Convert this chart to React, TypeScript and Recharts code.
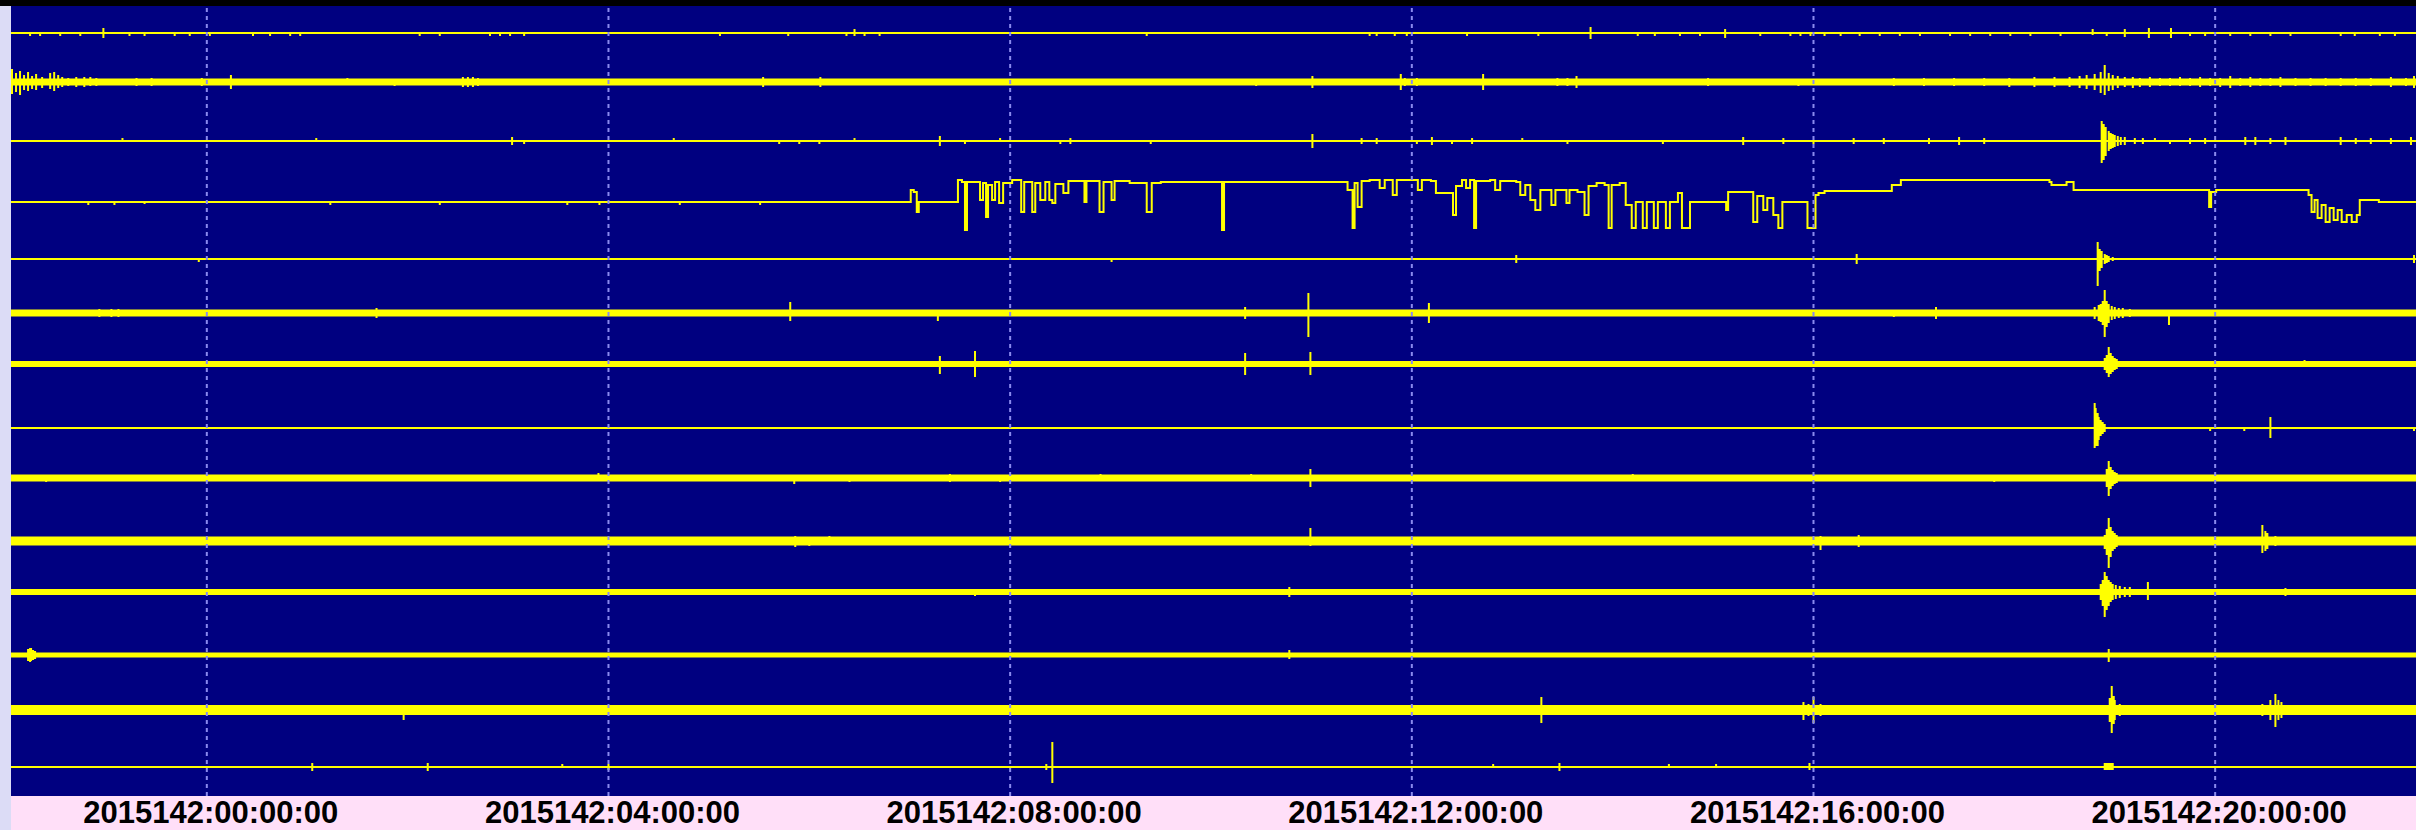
import { ComposedChart, Line, XAxis, YAxis, CartesianGrid, ReferenceLine } from "recharts";

// 24h helicorder-style view, day 2015142, x in hours from 00:00
const TICK_HOURS = [0, 4, 8, 12, 16, 20];
const TICK_LABELS = [
  "2015142:00:00:00",
  "2015142:04:00:00",
  "2015142:08:00:00",
  "2015142:12:00:00",
  "2015142:16:00:00",
  "2015142:20:00:00"
];

// spikes: [hour, up, down]
const CH01_SPIKES: [number, number, number][] = [
  [-1.76, 0, 3], [-1.66, 0, 3], [-1.46, 0, 3], [-1.26, 0, 3], [-1.03, 5, 5], [-0.77, 0, 3],
  [-0.62, 0, 3], [-0.32, 0, 3], [-0.17, 0, 3], [0.03, 0, 3], [0.46, 0, 3], [0.63, 0, 3],
  [0.83, 0, 3], [0.93, 0, 3], [2.12, 0, 3], [2.32, 0, 3], [2.82, 0, 3], [2.92, 0, 3],
  [3.02, 0, 3], [3.16, 0, 3], [5.11, 0, 3], [5.79, 0, 3], [6.37, 0, 3], [6.45, 4, 3],
  [6.55, 0, 3], [6.7, 0, 3], [9.36, 0, 3], [11.58, 0, 3], [11.65, 0, 3], [11.83, 0, 3],
  [11.95, 0, 3], [12.55, 0, 3], [13.26, 0, 3], [13.78, 6, 6], [14.25, 0, 3], [14.42, 0, 3],
  [14.67, 0, 3], [14.87, 0, 3], [15.12, 4, 5], [15.47, 0, 3], [15.77, 0, 3], [15.87, 0, 3],
  [15.97, 0, 3], [16.11, 0, 3], [16.27, 0, 3], [16.46, 0, 3], [16.66, 0, 3], [16.86, 0, 3],
  [17.06, 0, 3], [17.36, 0, 3], [17.56, 0, 3], [17.76, 0, 3], [17.96, 0, 3], [18.16, 0, 3],
  [18.46, 0, 3], [18.78, 4, 2], [18.92, 0, 3], [19.1, 4, 4], [19.34, 5, 5], [19.56, 5, 5],
  [19.75, 0, 3], [19.9, 0, 3], [20.15, 0, 3], [20.35, 0, 3], [20.55, 0, 3], [20.75, 0, 3],
  [21.25, 0, 3], [21.39, 0, 3], [21.64, 0, 3], [21.79, 0, 3]
];

const CH02_SPIKES: [number, number, number][] = [
  [-1.94, 13, 12], [-1.9, 9, 10], [-1.86, 11, 13], [-1.82, 7, 8], [-1.78, 10, 9], [-1.74, 6, 7],
  [-1.7, 8, 8], [-1.64, 5, 6], [-1.56, 9, 7], [-1.52, 10, 9], [-1.48, 7, 6], [-1.44, 5, 5],
  [-1.38, 4, 4], [-1.3, 5, 5], [-1.22, 5, 5], [-1.16, 5, 4], [-1.1, 4, 4], [-1.0, 3, 3],
  [-0.9, 3, 3], [-0.7, 4, 4], [-0.55, 4, 4], [-0.3, 3, 3], [-0.05, 4, 4], [0.24, 7, 7],
  [0.3, 3, 3], [0.9, 3, 3], [1.4, 4, 3], [1.87, 3, 4], [2.55, 5, 5], [2.6, 5, 5], [2.65, 5, 5],
  [2.7, 4, 4], [5.54, 5, 5], [6.11, 5, 5], [10.45, 3, 4], [11.01, 6, 6], [11.89, 8, 8],
  [11.93, 4, 4], [12.05, 4, 4], [12.71, 8, 8], [12.95, 3, 3], [13.45, 4, 4], [13.55, 4, 4],
  [13.64, 6, 6], [13.7, 3, 3], [14.6, 3, 3], [14.95, 4, 4], [15.6, 3, 3], [15.85, 3, 4],
  [16.1, 3, 3], [16.45, 3, 3], [16.8, 4, 4], [17.1, 4, 4], [17.4, 4, 4], [17.7, 4, 4],
  [17.95, 4, 5], [18.2, 5, 5], [18.4, 5, 5], [18.55, 5, 5], [18.65, 6, 6], [18.72, 7, 7],
  [18.8, 8, 8], [18.86, 10, 11], [18.9, 17, 13], [18.94, 9, 9], [18.98, 7, 8], [19.03, 6, 6],
  [19.1, 5, 5], [19.18, 5, 6], [19.25, 4, 5], [19.35, 5, 5], [19.45, 4, 4], [19.55, 4, 4],
  [19.65, 5, 4], [19.75, 4, 4], [19.85, 5, 5], [19.95, 4, 4], [20.05, 4, 5], [20.15, 6, 6],
  [20.25, 4, 4], [20.35, 5, 5], [20.45, 4, 4], [20.55, 4, 4], [20.65, 5, 5], [20.8, 4, 4],
  [20.95, 4, 4], [21.1, 4, 4], [21.25, 4, 4], [21.4, 4, 4], [21.55, 4, 4], [21.75, 5, 5],
  [21.9, 4, 4], [21.98, 6, 6]
];

const CH03_SPIKES: [number, number, number][] = [
  [-0.84, 3, 0], [1.09, 3, 0], [3.04, 4, 4], [3.16, 0, 3], [4.65, 3, 0], [5.7, 0, 3], [5.9, 0, 3],
  [6.1, 0, 3], [6.45, 3, 0], [7.3, 5, 5], [7.55, 0, 3], [7.9, 3, 0], [8.5, 0, 3], [8.6, 3, 3],
  [9.4, 0, 3], [11.01, 7, 7], [11.5, 3, 3], [11.65, 3, 3], [12.05, 0, 3], [12.2, 4, 4],
  [12.4, 0, 3], [12.6, 3, 3], [13.1, 3, 0], [13.55, 0, 3], [14.5, 0, 3], [15.3, 4, 4],
  [15.7, 3, 3], [16.0, 0, 3], [16.4, 3, 3], [16.7, 3, 3], [17.15, 3, 3], [17.45, 4, 4],
  [17.7, 3, 3], [18.87, 20, 22], [18.89, 17, 19], [18.91, 14, 15], [18.94, 10, 10],
  [18.96, 8, 8], [18.98, 7, 7], [19.0, 6, 6], [19.03, 5, 5], [19.06, 4, 4], [19.1, 4, 4],
  [19.2, 3, 3], [19.28, 3, 3], [19.4, 3, 0], [19.55, 0, 3], [19.75, 3, 3], [19.9, 3, 3],
  [20.3, 4, 4], [20.4, 4, 4], [20.55, 3, 3], [20.7, 4, 4], [21.25, 4, 4], [21.4, 3, 3],
  [21.55, 3, 3], [21.75, 3, 3], [21.95, 4, 4]
];

// channel 4 drifts: [hour, level]
const CH04_WAVE: [number, number][] = [
  [-1.95, 0], [-1.18, 0], [-1.18, -3], [-1.18, 0], [-0.92, 0], [-0.92, -3], [-0.92, 0],
  [-0.62, 0], [-0.62, -2], [-0.62, 0], [1.23, 0], [1.23, -3], [1.23, 0], [2.32, 0], [2.32, -3],
  [2.32, 0], [3.59, 0], [3.59, -3], [3.59, 0], [3.91, 0], [3.91, -3], [3.91, 0], [4.71, 0],
  [4.71, -3], [4.71, 0], [5.51, 0], [5.51, -3], [5.51, 0],
  [6.95, 0], [7.01, 12], [7.04, 10], [7.07, -10], [7.09, 0], [7.47, 0], [7.48, 22], [7.52, 20],
  [7.55, -28], [7.57, 20], [7.65, 20], [7.7, 2], [7.73, 19], [7.76, -15], [7.78, 17], [7.82, 2],
  [7.85, 20], [7.89, -1], [7.93, 19], [8.02, 22], [8.11, -10], [8.14, 20], [8.22, -10],
  [8.25, 19], [8.3, 2], [8.35, 20], [8.39, 2], [8.42, -1], [8.45, 18], [8.53, 9], [8.58, 21],
  [8.74, 0], [8.76, 21], [8.89, -10], [8.93, 20], [9.01, 2], [9.04, 21], [9.19, 19],
  [9.36, -10], [9.41, 19], [9.5, 20], [10.1, 20], [10.11, -28], [10.13, 20], [11.3, 20],
  [11.36, 12], [11.41, -26], [11.43, 19], [11.46, -5], [11.5, 21], [11.58, 22], [11.68, 14],
  [11.73, 22], [11.81, 7], [11.85, 22], [11.98, 22], [12.06, 12], [12.1, 22], [12.19, 21],
  [12.24, 9], [12.33, 9], [12.41, -13], [12.44, 16], [12.5, 22], [12.54, 14], [12.58, 22],
  [12.62, -26], [12.64, 21], [12.78, 22], [12.83, 12], [12.88, 21], [13.04, 20], [13.08, 7],
  [13.13, 17], [13.18, 2], [13.23, -8], [13.28, 12], [13.39, -3], [13.43, 12], [13.54, -1],
  [13.57, 12], [13.65, 10], [13.72, -13], [13.76, 16], [13.84, 19], [13.92, 17], [13.96, -26],
  [13.99, 17], [14.07, 19], [14.13, -3], [14.19, -26], [14.23, 0], [14.3, -26], [14.34, 0],
  [14.41, -26], [14.45, 0], [14.53, -26], [14.57, 0], [14.65, 9], [14.69, -26], [14.75, -26],
  [14.77, 0], [15.11, 0], [15.13, -8], [15.15, 10], [15.37, 10], [15.4, -20], [15.44, 6],
  [15.5, -8], [15.54, 4], [15.6, -13], [15.65, -26], [15.69, 0], [15.92, 0], [15.94, -26],
  [15.99, -26], [16.02, 7], [16.05, 9], [16.11, 11], [16.72, 11], [16.78, 17], [16.84, 17],
  [16.87, 22], [18.35, 20], [18.37, 17], [18.49, 17], [18.52, 20], [18.57, 20], [18.59, 12],
  [19.93, 12], [19.94, -5], [19.96, 10], [20.01, 12], [20.88, 12], [20.93, 7], [20.96, -10],
  [20.99, 2], [21.02, -16], [21.06, -3], [21.1, -20], [21.14, -6], [21.18, -18], [21.22, -8],
  [21.26, -20], [21.31, -13], [21.36, -20], [21.41, -13], [21.44, 2], [21.61, 2], [21.63, 0],
  [22.0, 0]
];

const CH05_SPIKES: [number, number, number][] = [
  [-0.08, 0, 3], [9.01, 0, 3], [13.04, 4, 4], [16.43, 5, 5], [18.83, 17, 27], [18.85, 10, 12],
  [18.87, 8, 9], [18.9, 5, 5], [18.92, 4, 4], [18.94, 3, 3], [18.98, 2, 2], [21.98, 4, 4]
];

const CH06_SPIKES: [number, number, number][] = [
  [-1.07, 4, 4], [-0.95, 4, 4], [-0.88, 4, 4], [1.69, 5, 5], [1.9, 3, 3], [2.4, 3, 3],
  [2.8, 3, 3], [4.3, 3, 3], [5.81, 11, 8], [6.9, 3, 3], [7.28, 3, 8], [10.34, 6, 6],
  [10.97, 20, 24], [11.3, 3, 3], [12.17, 10, 10], [12.4, 3, 3], [13.9, 3, 3], [15.2, 3, 3],
  [15.8, 3, 3], [16.5, 3, 3], [16.8, 3, 4], [17.22, 6, 6], [17.6, 3, 3], [18.0, 3, 3],
  [18.8, 6, 6], [18.84, 8, 8], [18.86, 9, 9], [18.88, 12, 12], [18.9, 23, 24], [18.92, 12, 14],
  [18.94, 9, 10], [18.97, 7, 7], [19.0, 6, 6], [19.04, 5, 5], [19.08, 5, 5], [19.15, 4, 4],
  [19.54, 3, 12], [20.1, 3, 3], [20.8, 3, 3], [21.5, 3, 3]
];

const CH07_SPIKES: [number, number, number][] = [
  [-1.6, 0, 3], [-1.2, 0, 3], [-0.8, 0, 3], [-0.4, 0, 3], [0.2, 0, 3], [0.6, 0, 3], [1.3, 3, 3],
  [1.5, 0, 3], [2.0, 0, 3], [2.4, 0, 3], [3.0, 0, 3], [3.5, 0, 3], [4.1, 0, 3], [4.6, 0, 3],
  [5.2, 0, 3], [6.0, 0, 3], [7.3, 8, 10], [7.65, 13, 13], [8.3, 0, 3], [9.2, 0, 3],
  [10.34, 11, 11], [10.99, 12, 11], [11.6, 0, 3], [12.3, 0, 3], [13.2, 0, 3], [14.1, 0, 3],
  [15.0, 0, 3], [15.9, 0, 3], [16.8, 0, 3], [17.6, 0, 3], [18.3, 0, 3], [18.9, 6, 6],
  [18.92, 9, 9], [18.94, 17, 13], [18.96, 11, 10], [18.98, 8, 8], [19.0, 6, 6], [19.02, 5, 5],
  [20.89, 4, 0], [21.5, 0, 3]
];

const CH08_SPIKES: [number, number, number][] = [
  [18.8, 25, 20], [18.81, 20, 18], [18.83, 15, 18], [18.84, 11, 12], [18.86, 8, 8], [18.88, 6, 6],
  [18.9, 4, 4], [19.95, 0, 3], [20.29, 0, 3], [20.55, 11, 10], [21.98, 0, 3]
];

const CH09_SPIKES: [number, number, number][] = [
  [-1.6, 0, 4], [-1.1, 0, 3], [0.4, 0, 3], [1.5, 0, 3], [2.1, 0, 3], [3.9, 5, 3], [4.3, 0, 3],
  [4.8, 0, 3], [5.85, 3, 6], [6.4, 3, 4], [6.9, 3, 3], [7.4, 4, 4], [7.9, 0, 4], [8.4, 3, 3],
  [8.9, 4, 3], [9.4, 0, 3], [9.9, 3, 3], [10.4, 4, 3], [10.99, 9, 9], [11.5, 3, 3], [12.0, 3, 3],
  [12.5, 3, 3], [13.0, 3, 3], [13.6, 3, 3], [14.2, 4, 3], [14.9, 3, 3], [15.5, 3, 3],
  [16.1, 3, 3], [16.6, 3, 3], [17.2, 3, 3], [17.8, 3, 4], [18.4, 3, 3], [18.92, 9, 9],
  [18.94, 17, 18], [18.96, 11, 11], [18.98, 8, 8], [19.0, 6, 6], [19.02, 5, 5], [19.6, 3, 3],
  [20.2, 3, 3], [20.8, 3, 3], [21.4, 3, 3], [21.9, 3, 3]
];

const CH10_SPIKES: [number, number, number][] = [
  [-1.5, 3, 3], [-0.5, 3, 3], [0.5, 3, 3], [1.0, 3, 3], [1.9, 4, 3], [2.6, 3, 3], [3.3, 3, 3],
  [4.2, 3, 3], [5.0, 3, 3], [5.86, 5, 6], [6.0, 4, 5], [6.2, 5, 4], [7.0, 3, 3], [8.0, 3, 3],
  [9.0, 4, 3], [10.0, 3, 3], [10.99, 13, 5], [11.5, 3, 3], [12.4, 3, 3], [13.2, 3, 3],
  [14.0, 3, 3], [14.8, 3, 3], [15.5, 3, 3], [16.07, 5, 9], [16.14, 3, 4], [16.45, 6, 6],
  [16.5, 3, 4], [17.2, 3, 3], [17.8, 3, 3], [18.9, 6, 8], [18.92, 12, 14], [18.94, 23, 27],
  [18.96, 14, 16], [18.98, 10, 10], [19.0, 8, 8], [19.02, 6, 6], [19.5, 3, 3], [20.1, 3, 3],
  [20.47, 16, 12], [20.5, 10, 10], [20.52, 8, 8], [20.6, 5, 5], [21.2, 3, 3], [21.8, 3, 3]
];

const CH11_SPIKES: [number, number, number][] = [
  [5.3, 0, 3], [5.9, 0, 3], [6.1, 0, 3], [6.5, 0, 3], [6.8, 0, 3], [7.2, 0, 3], [7.5, 0, 3],
  [7.65, 0, 4], [10.78, 5, 5], [11.3, 3, 3], [12.5, 3, 3], [13.1, 3, 3], [15.8, 0, 3],
  [16.4, 0, 3], [18.86, 8, 8], [18.88, 12, 14], [18.9, 20, 25], [18.92, 16, 18], [18.94, 12, 14],
  [18.96, 10, 10], [18.98, 8, 8], [19.01, 7, 7], [19.05, 6, 6], [19.1, 5, 5], [19.15, 5, 5],
  [19.33, 10, 8], [19.8, 3, 3], [20.7, 4, 4], [21.5, 3, 3]
];

const CH12_SPIKES: [number, number, number][] = [
  [-1.78, 6, 6], [-1.76, 7, 7], [-1.75, 7, 6], [-1.73, 5, 5], [-1.71, 4, 4], [10.78, 5, 4],
  [18.94, 6, 7]
];

const CH13_SPIKES: [number, number, number][] = [
  [-1.6, 3, 3], [-1.3, 4, 3], [-0.8, 3, 3], [-0.3, 3, 3], [0.2, 4, 4], [0.6, 3, 3], [1.2, 3, 3],
  [1.96, 5, 10], [2.4, 3, 3], [3.0, 3, 3], [3.6, 3, 3], [4.2, 3, 3], [4.8, 3, 3], [5.4, 3, 4],
  [6.0, 3, 3], [6.6, 3, 3], [7.2, 3, 4], [7.8, 3, 3], [8.4, 3, 3], [9.0, 4, 4], [9.6, 3, 3],
  [10.2, 3, 3], [10.8, 3, 3], [11.4, 3, 3], [12.0, 3, 3], [12.6, 3, 3], [13.29, 13, 13],
  [13.9, 3, 3], [14.5, 3, 3], [15.2, 3, 3], [15.8, 5, 5], [15.9, 8, 10], [15.95, 6, 6],
  [16.0, 13, 13], [16.07, 6, 6], [16.6, 3, 3], [17.3, 3, 3], [17.9, 3, 3], [18.95, 12, 12],
  [18.97, 24, 23], [18.99, 14, 14], [19.0, 10, 10], [19.05, 6, 6], [19.6, 3, 3], [20.2, 3, 3],
  [20.47, 6, 6], [20.55, 10, 10], [20.6, 16, 17], [20.63, 10, 10], [20.66, 8, 8], [20.75, 5, 5],
  [21.4, 3, 3], [21.9, 3, 3]
];

const CH14_SPIKES: [number, number, number][] = [
  [1.05, 4, 4], [2.2, 4, 4], [3.54, 3, 0], [4.0, 3, 3], [8.36, 3, 3], [8.42, 25, 16],
  [12.81, 3, 0], [13.47, 4, 4], [14.56, 3, 0], [15.03, 3, 0], [15.96, 4, 3], [18.9, 4, 3],
  [18.92, 4, 3], [18.94, 4, 3], [18.96, 4, 3], [18.98, 4, 3]
];

const X_MIN = -1.95;
const X_MAX = 22.0;
const PLOT_H = 790;

// row layout (baseline from top of plot, band thickness)
const ROWS = [
  { spikes: CH01_SPIKES, base: 27, band: 2 },
  { spikes: CH02_SPIKES, base: 76, band: 7 },
  { spikes: CH03_SPIKES, base: 135, band: 2 },
  { wave: CH04_WAVE, base: 196, band: 2 },
  { spikes: CH05_SPIKES, base: 253, band: 2 },
  { spikes: CH06_SPIKES, base: 307, band: 7 },
  { spikes: CH07_SPIKES, base: 358, band: 6 },
  { spikes: CH08_SPIKES, base: 422, band: 2 },
  { spikes: CH09_SPIKES, base: 472, band: 7 },
  { spikes: CH10_SPIKES, base: 535, band: 9 },
  { spikes: CH11_SPIKES, base: 586, band: 6 },
  { spikes: CH12_SPIKES, base: 649, band: 5 },
  { spikes: CH13_SPIKES, base: 704, band: 10 },
  { spikes: CH14_SPIKES, base: 761, band: 2 }
];

const YELLOW = "#ffff00";

function spikeLine(base: number, spikes: [number, number, number][]) {
  const pts = [{ t: X_MIN, v: base }];
  const sorted = [...spikes].sort((a, b) => a[0] - b[0]);
  for (const [t, up, down] of sorted) {
    pts.push({ t, v: base }, { t, v: base - up }, { t, v: base + down }, { t, v: base });
  }
  pts.push({ t: X_MAX, v: base });
  return pts;
}

function waveLine(base: number, wave: [number, number][]) {
  return wave.map(([t, a]) => ({ t, v: base - a }));
}

function TimeTick(props: any) {
  const { x, y, payload } = props;
  const i = TICK_HOURS.indexOf(payload.value);
  return (
    <text
      x={x + 4}
      y={y}
      dy={27}
      textAnchor="middle"
      fontFamily="'Liberation Sans', Arial, sans-serif"
      fontWeight="bold"
      fontSize={31}
      fill="#000"
    >
      {TICK_LABELS[i]}
    </text>
  );
}

export default function App() {
  return (
    <div style={{ position: "fixed", left: 0, top: 0, width: 2416, height: 830, background: "#ffdff8" }}>
      <div style={{ position: "absolute", left: 0, top: 0, width: 11, height: 830, background: "#dcdcf6" }} />
      <div style={{ position: "absolute", left: 0, top: 0, width: 2416, height: 6, background: "#000" }} />
      <div style={{ position: "absolute", left: 0, top: 0 }}>
        <ComposedChart width={2416} height={830} margin={{ top: 6, right: 0, left: 11, bottom: 0 }}>
          <CartesianGrid fill="#000080" horizontal={false} vertical={false} stroke="none" />
          <XAxis
            type="number"
            dataKey="t"
            domain={[X_MIN, X_MAX]}
            ticks={TICK_HOURS}
            allowDataOverflow
            axisLine={false}
            tickLine={false}
            tickSize={0}
            tickMargin={0}
            height={34}
            tick={<TimeTick />}
            interval={0}
          />
          <YAxis type="number" dataKey="v" domain={[0, PLOT_H]} reversed hide allowDataOverflow />
          {ROWS.map((row, i) =>
            row.band > 2 ? (
              <Line
                key={"band" + i}
                data={[{ t: X_MIN, v: row.base }, { t: X_MAX, v: row.base }]}
                dataKey="v"
                stroke={YELLOW}
                strokeWidth={row.band}
                dot={false}
                activeDot={false}
                isAnimationActive={false}
                legendType="none"
              />
            ) : null
          )}
          {ROWS.map((row, i) => (
            <Line
              key={"trace" + i}
              data={row.wave ? waveLine(row.base, row.wave) : spikeLine(row.base, row.spikes!)}
              dataKey="v"
              type={row.wave ? "stepAfter" : "linear"}
              stroke={YELLOW}
              strokeWidth={2}
              dot={false}
              activeDot={false}
              isAnimationActive={false}
              legendType="none"
            />
          ))}
          {TICK_HOURS.map((h) => (
            <ReferenceLine key={h} x={h} stroke="#8a8aee" strokeWidth={2} strokeDasharray="4 4" />
          ))}
        </ComposedChart>
      </div>
    </div>
  );
}
